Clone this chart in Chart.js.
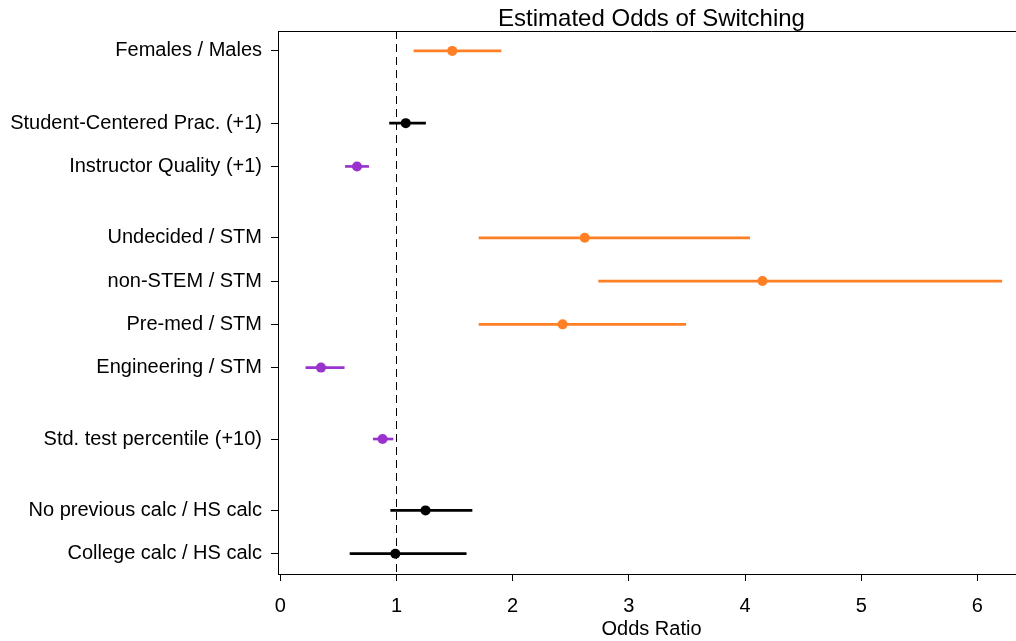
<!DOCTYPE html>
<html>
<head>
<meta charset="utf-8">
<title>Estimated Odds of Switching</title>
<script src="https://cdn.jsdelivr.net/npm/chart.js@4.4.1/dist/chart.umd.min.js"></script>
<style>
    html, body { margin: 0; padding: 0; background: #fff; overflow: hidden; }
    #wrap { width: 1030px; height: 641px; }
</style>
</head>
<body>
<div id="wrap"><canvas id="oddsChart" width="1030" height="641"></canvas></div>
<script>
// rows, top to bottom
const labels = [
    'Females / Males',
    'Student-Centered Prac. (+1)',
    'Instructor Quality (+1)',
    'Undecided / STM',
    'non-STEM / STM',
    'Pre-med / STM',
    'Engineering / STM',
    'Std. test percentile (+10)',
    'No previous calc / HS calc',
    'College calc / HS calc'
];
// row position on the y scale (groups separated by a gap)
const rowY = [12.62, 10.95, 9.95, 8.3, 7.3, 6.3, 5.3, 3.65, 2, 1];
const oddsRatio = [1.48, 1.08, 0.66, 2.62, 4.15, 2.43, 0.35, 0.88, 1.25, 0.99];
const lower = [1.15, 0.94, 0.56, 1.71, 2.74, 1.71, 0.22, 0.80, 0.95, 0.60];
const upper = [1.90, 1.25, 0.76, 4.04, 6.21, 3.49, 0.55, 0.97, 1.65, 1.60];
// effect direction: 'up' = more switching, 'down' = less, 'ns' = not significant
const effect = ['up', 'ns', 'down', 'up', 'up', 'up', 'down', 'down', 'ns', 'ns'];
const xTicks = [0, 1, 2, 3, 4, 5, 6];

const effectColors = { up: '#FF7F24', down: '#9A32CD', ns: '#000000' };
const colors = effect.map(e => effectColors[e]);

const font = "'Liberation Sans', Arial, sans-serif";

const boxAndRefLine = {
    id: 'boxAndRefLine',
    beforeDatasetsDraw(chart) {
        const { ctx, chartArea } = chart;
        const x1 = chart.scales.x.getPixelForValue(1);
        ctx.save();
        ctx.strokeStyle = '#000';
        ctx.lineWidth = 1;
        ctx.setLineDash([8, 5]);
        ctx.beginPath();
        ctx.moveTo(Math.round(x1) + 0.5, chartArea.top);
        ctx.lineTo(Math.round(x1) + 0.5, chartArea.bottom);
        ctx.stroke();
        ctx.restore();
    },
    afterDraw(chart) {
        const { ctx, chartArea } = chart;
        ctx.save();
        ctx.strokeStyle = '#000';
        ctx.lineWidth = 1;
        ctx.beginPath();
        ctx.moveTo(chartArea.left, chartArea.top + 0.5);
        ctx.lineTo(chartArea.right + 0.5, chartArea.top + 0.5);
        ctx.lineTo(chartArea.right + 0.5, chartArea.bottom);
        ctx.stroke();
        ctx.fillStyle = '#000';
        ctx.font = '24px ' + font;
        ctx.textAlign = 'center';
        ctx.textBaseline = 'middle';
        ctx.fillText('Estimated Odds of Switching', (chartArea.left + chartArea.right) / 2, 19);
        ctx.restore();
    }
};

const ctx = document.getElementById('oddsChart').getContext('2d');
const oddsChart = new Chart(ctx, {
    type: 'bar',
    data: {
        datasets: [
            {
                type: 'bar',
                indexAxis: 'y',
                data: labels.map((l, i) => ({ x: [lower[i], upper[i]], y: rowY[i] })),
                backgroundColor: colors,
                borderWidth: 0,
                barThickness: 2
            },
            {
                type: 'scatter',
                data: labels.map((l, i) => ({ x: oddsRatio[i], y: rowY[i] })),
                pointBackgroundColor: colors,
                pointBorderColor: colors,
                pointRadius: 5,
                pointBorderWidth: 0
            }
        ]
    },
    options: {
        responsive: false,
        animation: false,
        layout: { padding: { top: 31, right: 4, left: 0, bottom: 0 } },
        plugins: {
            legend: { display: false },
            tooltip: { enabled: false }
        },
        scales: {
            x: {
                type: 'linear',
                position: 'bottom',
                offset: false,
                min: -0.02,
                max: 6.41,
                afterBuildTicks: scale => { scale.ticks = xTicks.map(v => ({ value: v })); },
                afterFit: scale => { scale.height = 67; },
                grid: { offset: false, drawOnChartArea: false, drawTicks: true, tickLength: 7, color: '#000' },
                border: { display: true, color: '#000', width: 1 },
                ticks: { color: '#000', padding: 13, font: { family: font, size: 20 } },
                title: {
                    display: true,
                    text: 'Odds Ratio',
                    color: '#000',
                    padding: { top: 0, bottom: 0 },
                    font: { family: font, size: 20 }
                }
            },
            y: {
                type: 'linear',
                position: 'left',
                offset: false,
                min: 0.53,
                max: 13.08,
                afterBuildTicks: scale => { scale.ticks = rowY.map(v => ({ value: v })); },
                afterFit: scale => { scale.width = 278; },
                grid: { offset: false, drawOnChartArea: false, drawTicks: true, tickLength: 7, color: '#000' },
                border: { display: true, color: '#000', width: 1 },
                ticks: {
                    color: '#000',
                    padding: 9,
                    font: { family: font, size: 20 },
                    callback: (value, index) => labels[index]
                }
            }
        }
    },
    plugins: [boxAndRefLine]
});
</script>
</body>
</html>
